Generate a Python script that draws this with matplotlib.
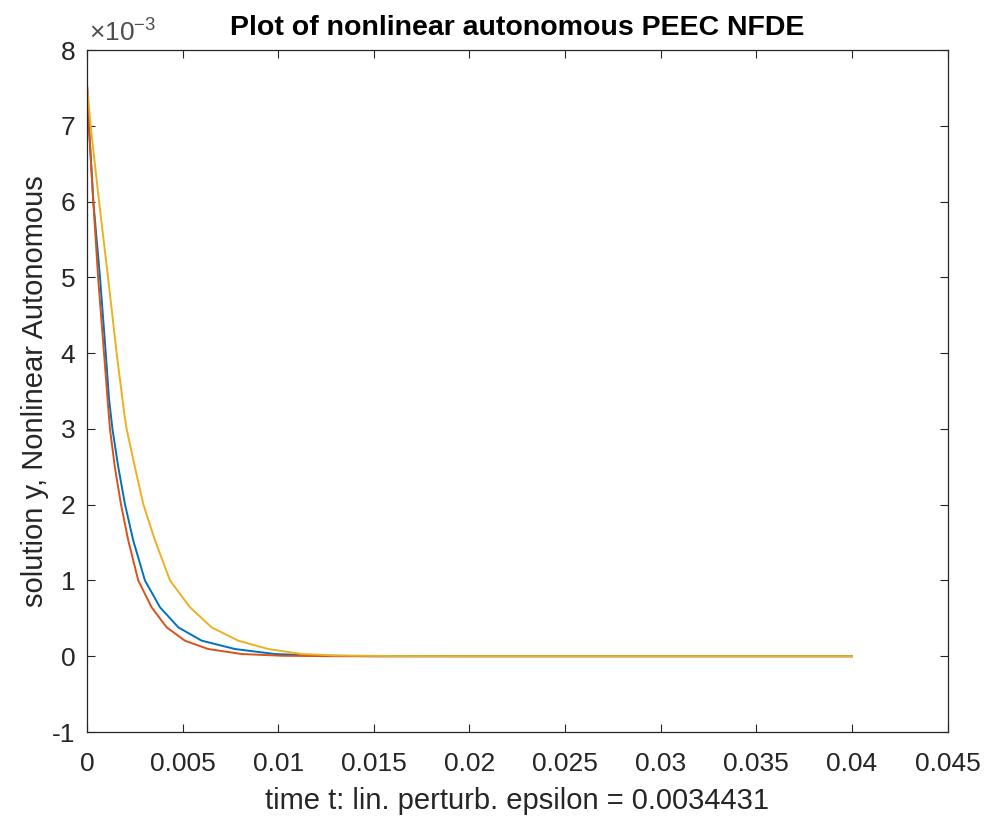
import matplotlib
matplotlib.use("Agg")
import matplotlib.pyplot as plt

plt.rcParams['font.family'] = ['Liberation Sans', 'DejaVu Sans']
plt.rcParams['mathtext.fontset'] = 'custom'
plt.rcParams['mathtext.rm'] = 'Liberation Sans'
plt.rcParams['mathtext.it'] = 'Liberation Sans'

# values (y in units of 1e-3)
t_blue = [0, 0.0001, 0.00033, 0.00068, 0.00098, 0.00115, 0.00133, 0.00164, 0.00199, 0.00242,
          0.00303, 0.00382, 0.00478, 0.006, 0.00774, 0.00983, 0.012, 0.015, 0.04]
y_blue = [7.54, 7.0, 6.0, 5.0, 4.0, 3.4, 3.0, 2.49, 2.0, 1.526,
          1.0, 0.645, 0.38, 0.205, 0.095, 0.029, 0.008, 0.0, 0.0]

t_red = [0, 0.0001, 0.00033, 0.00058, 0.00089, 0.00108, 0.0012, 0.00146, 0.00178, 0.00216,
         0.00268, 0.00338, 0.00417, 0.00512, 0.00634, 0.00809, 0.0102, 0.013, 0.04]
y_red = [7.54, 7.0, 6.0, 5.0, 4.0, 3.375, 3.0, 2.49, 2.0, 1.526,
         1.0, 0.645, 0.38, 0.205, 0.095, 0.029, 0.006, 0.0, 0.0]

t_yellow = [0, 0.00019, 0.00063, 0.0011, 0.00155, 0.00193, 0.00207, 0.00251, 0.00295, 0.00356,
            0.00434, 0.00539, 0.00652, 0.00791, 0.00948, 0.01123, 0.013, 0.016, 0.02, 0.04]
y_yellow = [7.54, 7.0, 6.0, 5.0, 4.0, 3.24, 3.0, 2.49, 2.0, 1.526,
            1.0, 0.645, 0.38, 0.205, 0.095, 0.029, 0.01, 0.002, 0.0, 0.0]

x_ticks = [0, 0.005, 0.01, 0.015, 0.02, 0.025, 0.03, 0.035, 0.04, 0.045]
x_labels = ["0", "0.005", "0.01", "0.015", "0.02", "0.025", "0.03", "0.035", "0.04", "0.045"]
y_ticks = [-1, 0, 1, 2, 3, 4, 5, 6, 7, 8]
y_labels = ["-1", "0", "1", "2", "3", "4", "5", "6", "7", "8"]

dark = (0.15, 0.15, 0.15)

fig = plt.figure(figsize=(9.88, 8.19), dpi=100)
ax = fig.add_axes([87 / 988, 1 - 732 / 819, 860.5 / 988, 682 / 819])

ax.plot(t_blue, y_blue, color=(0, 0.447, 0.741), lw=1.4)
ax.plot(t_red, y_red, color=(0.85, 0.325, 0.098), lw=1.4)
ax.plot(t_yellow, y_yellow, color=(0.929, 0.694, 0.125), lw=1.4)

ax.set_xlim(0, 0.045)
ax.set_ylim(-1, 8)
ax.set_xticks(x_ticks)
ax.set_xticklabels(x_labels)
ax.set_yticks(y_ticks)
ax.set_yticklabels(y_labels)
ax.tick_params(direction='in', length=6, width=0.8, top=True, right=True,
               labelsize=19, labelcolor=dark, color=dark)
ax.tick_params(axis='x', pad=14.5)
ax.tick_params(axis='y', pad=8.5)
for s in ax.spines.values():
    s.set_color(dark)
    s.set_linewidth(0.9)

ax.text(0.002, 1.005, r'$\times10^{-3}$', transform=ax.transAxes, fontsize=19,
        color=(0.3, 0.3, 0.3), ha='left', va='bottom')

ax.set_title("Plot of nonlinear autonomous PEEC NFDE", fontsize=20.5, fontweight='bold', pad=11)
ax.set_xlabel("time t: lin. perturb. epsilon = 0.0034431", fontsize=21, color=dark, labelpad=8)
ax.set_ylabel("solution y, Nonlinear Autonomous", fontsize=21, color=dark, labelpad=2)

fig.savefig("out.png", dpi=100)
